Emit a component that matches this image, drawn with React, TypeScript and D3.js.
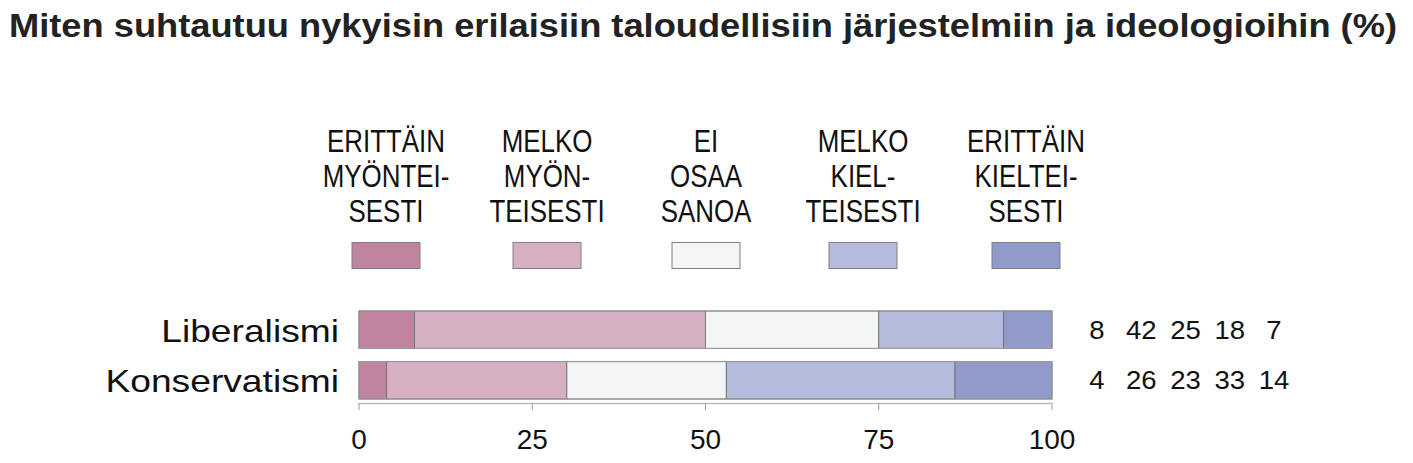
import React from "react";
import * as d3 from "d3";

const title = "Miten suhtautuu nykyisin erilaisiin taloudellisiin järjestelmiin ja ideologioihin (%)";
const categories = ["Liberalismi", "Konservatismi"];
const seriesNames = [
  ["ERITTÄIN", "MYÖNTEI-", "SESTI"],
  ["MELKO", "MYÖN-", "TEISESTI"],
  ["EI", "OSAA", "SANOA"],
  ["MELKO", "KIEL-", "TEISESTI"],
  ["ERITTÄIN", "KIELTEI-", "SESTI"],
];
const liberalismi = [8, 42, 25, 18, 7];
const konservatismi = [4, 26, 23, 33, 14];
const values = [liberalismi, konservatismi];
const colors = ["#BF85A0", "#D7AFC3", "#F3F5F7", "#B4BBDD", "#909BCB"];
const ticks = [0, 25, 50, 75, 100];

const SANS = "'Liberation Sans', Arial, sans-serif";

export default function App() {
  const W = 1413, H = 463;
  const x = d3.scaleLinear().domain([0, 100]).range([359, 1052]);
  const y = d3.scaleBand().domain(categories).range([311, 399]).paddingInner(0.26);
  const legendCenters = [386, 547, 706, 863, 1026];
  const valCol = d3.scalePoint<number>().domain(d3.range(5)).range([1097, 1274]);
  return (
    <svg width={W} height={H} style={{ position: "absolute", left: 0, top: 0 }}>
      <rect width={W} height={H} fill="#fff" />
      <text x={9} y={37} fontFamily={SANS} fontWeight="bold" fontSize={33} fill="#222"
        textLength={1388} lengthAdjust="spacingAndGlyphs">{title}</text>
      {seriesNames.map((lines, i) => {
        const cx = legendCenters[i];
        return (
          <g key={i}>
            {lines.map((l, j) => (
              <text key={j} transform={`translate(${cx},${152 + j * 35}) scale(0.81,1)`} textAnchor="middle"
                fontFamily={SANS} fontSize={32} fill="#111">{l}</text>
            ))}
            <rect x={cx - 34} y={242.5} width={68} height={26} fill={colors[i]}
              stroke="#808080" strokeWidth={1} />
          </g>
        );
      })}
      {categories.map((c, ci) => {
        const stack = d3.cumsum(values[ci]);
        const y0 = y(c)!;
        const bh = y.bandwidth();
        const cy = y0 + bh / 2;
        return (
          <g key={c}>
            {values[ci].map((v, k) => {
              const s = k === 0 ? 0 : stack[k - 1];
              return (
                <rect key={k} x={x(s)} y={y0} width={x(s + v) - x(s)} height={bh}
                  fill={colors[k]} stroke="#6a6a6a" strokeWidth={0.8} />
              );
            })}
            <rect x={x(0)} y={y0} width={x(100) - x(0)} height={bh} fill="none" stroke="#9a9a9a" strokeWidth={1.2} />
            <text transform={`translate(339,${cy + 12}) scale(1.2,1)`} textAnchor="end" fontFamily={SANS}
              fontSize={31} fill="#111">{c}</text>
            {values[ci].map((v, k) => (
              <text key={k} transform={`translate(${valCol(k)},${cy + 9}) scale(1.08,1)`} textAnchor="middle"
                fontFamily={SANS} fontSize={25.5} fill="#111">{v}</text>
            ))}
          </g>
        );
      })}
      <g>
        <line x1={x(0)} x2={x(100)} y1={403.5} y2={403.5} stroke="#bbb" strokeWidth={1.5} />
        {ticks.map((t) => (
          <g key={t}>
            <line x1={x(t)} x2={x(t)} y1={403} y2={410} stroke="#999" strokeWidth={1} />
            <text x={x(t)} y={449} textAnchor="middle" fontFamily={SANS}
              fontSize={28} fill="#111">{t}</text>
          </g>
        ))}
      </g>
    </svg>
  );
}
